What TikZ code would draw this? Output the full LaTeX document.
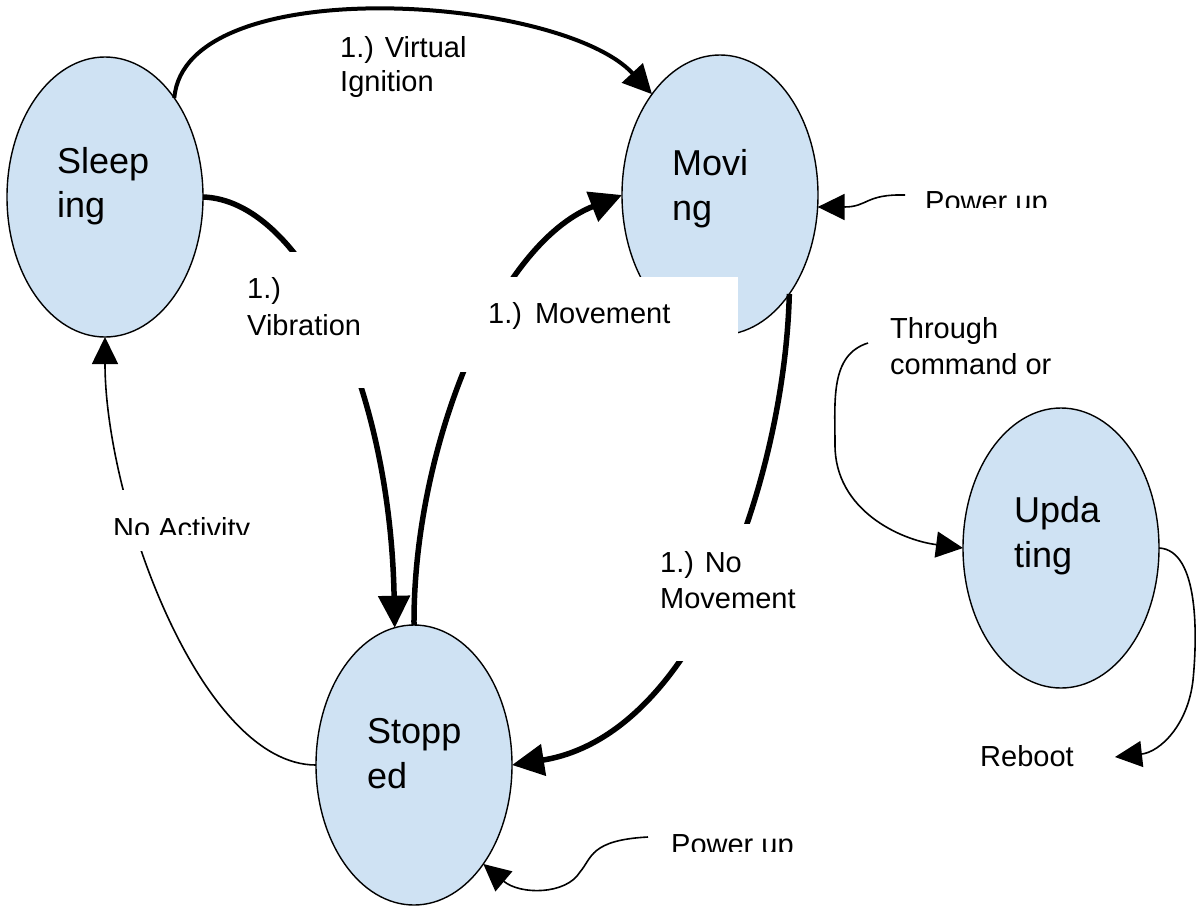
\documentclass[tikz,border=0pt]{standalone}
\usepackage{fontspec}
\setmainfont{Liberation Sans}
\usetikzlibrary{arrows.meta,shapes.geometric}
\definecolor{stfill}{RGB}{207,226,243}
\newcommand{\mylines}[3]{\vtop{\baselineskip=#3\hbox{#1}\hbox{#2}}}
\begin{document}
\begin{tikzpicture}[x=1pt,y=-1pt,
  state/.style={ellipse, draw=black, line width=1.4pt, fill=stfill, minimum width=196pt, minimum height=280pt, inner sep=0pt, outer sep=0pt},
  stxt/.style={anchor=base west, inner sep=0pt, font=\fontsize{36}{44}\selectfont},
  ltxt/.style={anchor=base west, inner sep=0pt, font=\fontsize{29}{36}\selectfont},
  thickarrow/.style={line width=5.5pt, -{Triangle[length=32pt,width=31pt]}},
  thinarrow/.style={line width=1.6pt, -{Triangle[length=27pt,width=26pt]}},
  mask/.style={fill=white, draw=none, inner sep=0pt, outer sep=0pt, anchor=north west},
]
\useasboundingbox[fill=white] (0,0) rectangle (1196,905);

% states
\node[state] (sleep) at (105,197) {};
\node[state] (mov) at (720,195) {};
\node[state] (stop) at (414,765) {};
\node[state] (upd) at (1061,548) {};

% free ends
\coordinate (pu1) at (905,195);
\coordinate (pu2) at (648,837);
\coordinate (thr) at (868,343);
\coordinate (rb) at (1115,757);

% connectors
\draw[line width=4pt, -{Triangle[length=29pt,width=28pt]}] (sleep.55) .. controls (185,-30) and (560,-5) .. (mov.124.8);
\draw[thickarrow] (sleep.0) .. controls (300,200) and (390,380) .. (stop.98);
\draw[thickarrow] (stop.90) .. controls (413,450) and (495,245) .. (mov.180);
\draw[thickarrow] (mov.-55) .. controls (785,470) and (700,735) .. (stop.0);
\draw[thinarrow] (stop.180) .. controls (200,765) and (105,500) .. (sleep.-90);
\draw[thinarrow] (pu1) .. controls (865,194) and (868,207) .. (mov.-7);
\draw[thinarrow] (pu2) .. controls (590,840) and (592,858) .. (580,872) .. controls (566,895) and (520,895) .. (stop.-55);
\draw[thinarrow] (thr) .. controls (830,355) and (835,400) .. (835,445) .. controls (835,510) and (900,540) .. (upd.180);
\draw[thinarrow] (upd.0) .. controls (1200,550) and (1197,640) .. (1193,680) .. controls (1188,725) and (1160,752) .. (rb);

% label boxes (white)
\node[mask, minimum width=137pt, minimum height=136pt] (vibbox) at (235,252) {};
\node[mask, minimum width=288pt, minimum height=95pt] (movbox) at (450,277) {};
\node[mask, minimum width=150pt, minimum height=137pt] (nmbox) at (650,524) {};
\node[mask, minimum width=150pt, minimum height=61pt] (nabox) at (105,490) {};

% state texts
\node[stxt] (sleept) at (57,173) {\mylines{Sleep}{ing}{44pt}};
\node[stxt] (movt) at (672,175) {\mylines{Movi}{ng}{45pt}};
\node[stxt] (stopt) at (367,743) {\mylines{Stopp}{ed}{45pt}};
\node[stxt] (updt) at (1014,522) {\mylines{Upda}{ting}{45pt}};

% labels
\node[ltxt] (virt) at (340,57) {\mylines{1.) Virtual}{Ignition}{34pt}};
\node[ltxt] (vibt) at (247,298) {\mylines{1.)}{Vibration}{37pt}};
\node[ltxt] (movlt) at (488,323) {1.)\hspace{13pt}Movement};
\node[ltxt] (nmt) at (660,572) {\mylines{1.) No}{Movement}{36pt}};
\node[ltxt] (thrt) at (890,338) {\mylines{Through}{command or}{36pt}};
\node[ltxt] (rbt) at (980,766) {Reboot};
\begin{scope}
\clip (100,500) rectangle (300,534);
\node[ltxt] (nat) at (113,538) {No Activity};
\end{scope}
\begin{scope}
\clip (900,170) rectangle (1100,207);
\node[ltxt] (pu1t) at (925,211) {Power up};
\end{scope}
\begin{scope}
\clip (660,815) rectangle (850,851);
\node[ltxt] (pu2t) at (671,854) {Power up};
\end{scope}
\end{tikzpicture}
\end{document}
